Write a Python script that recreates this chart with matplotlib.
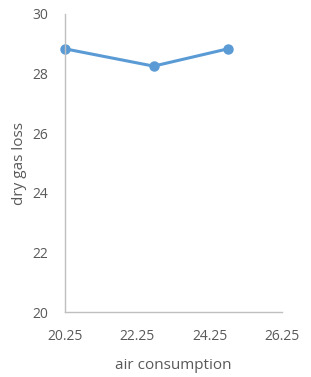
import matplotlib
matplotlib.use("Agg")
import matplotlib.pyplot as plt

air = [20.25, 22.7, 24.75]
gas_loss = [28.83, 28.25, 28.83]
xticks = [20.25, 22.25, 24.25, 26.25]
yticks = [20, 22, 24, 26, 28, 30]

plt.rcParams['font.family'] = ['Open Sans', 'DejaVu Sans']
txt = '#595959'

fig = plt.figure(figsize=(3.11, 3.77), dpi=100)
ax = fig.add_axes([0.209, 0.172, 0.698, 0.791])

ax.plot(air, gas_loss, color='#5b9bd5', lw=2.2, marker='o', ms=6.5, clip_on=False)

ax.set_xlim(20.25, 26.25)
ax.set_ylim(20, 30)
ax.set_xticks(xticks)
ax.set_xticklabels([f'{v:.2f}' for v in xticks])
ax.set_yticks(yticks)

for s in ['top', 'right']:
    ax.spines[s].set_visible(False)
for s in ['left', 'bottom']:
    ax.spines[s].set_color('#bfbfbf')
    ax.spines[s].set_linewidth(1)
ax.tick_params(length=0, labelsize=10, colors=txt)
ax.tick_params(axis='y', pad=12)
ax.tick_params(axis='x', pad=12)

ax.set_xlabel('air consumption', fontsize=11, color=txt, labelpad=10)
ax.set_ylabel('dry gas loss', fontsize=11, color=txt, labelpad=4)

fig.savefig('out.png', dpi=100)
